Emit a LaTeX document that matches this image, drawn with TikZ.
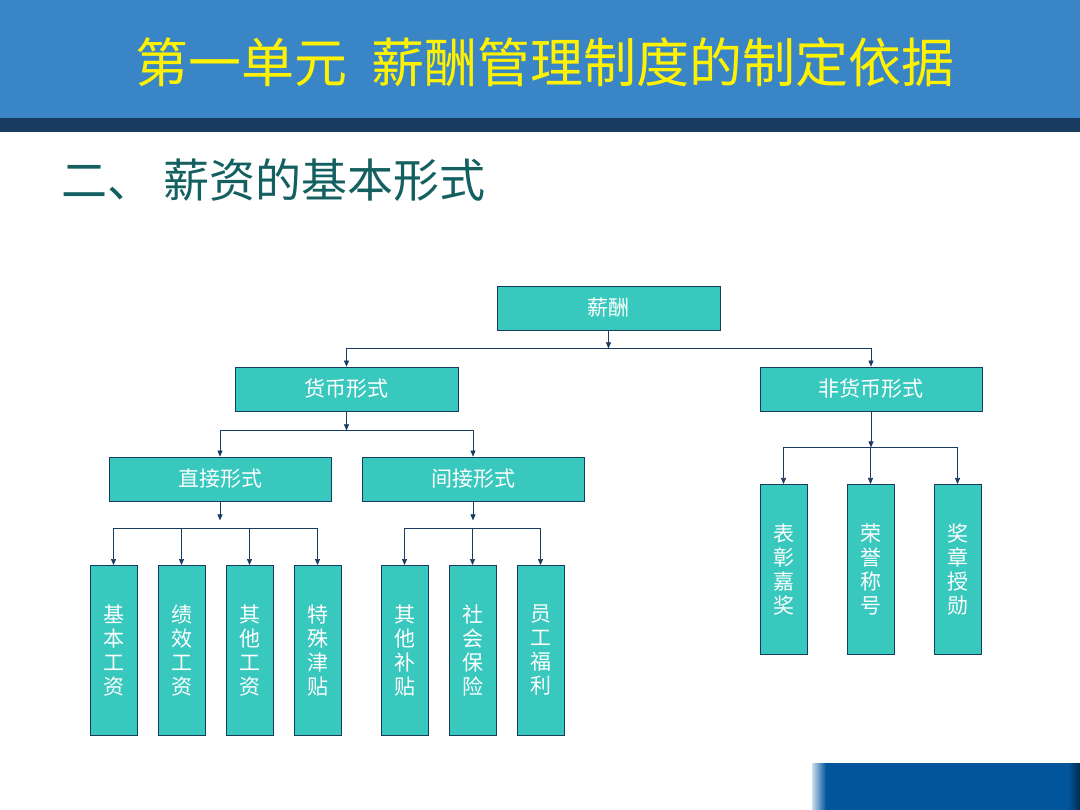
\documentclass[tikz,border=0pt]{standalone}
\usepackage{fontspec}
\newfontfamily\cjk{Noto Sans CJK SC}
\usetikzlibrary{arrows.meta}
\definecolor{banner}{RGB}{58,133,198}
\definecolor{navy}{RGB}{24,60,96}
\definecolor{boxfill}{RGB}{56,200,190}
\definecolor{subtitle}{RGB}{20,95,95}
\definecolor{tab}{RGB}{0,85,155}
\tikzset{
  box/.style={draw=navy, fill=boxfill, thick, minimum height=44pt, font=\cjk\fontsize{21}{24}\selectfont, text=white},
  vbox/.style={draw=navy, fill=boxfill, thick, minimum width=47pt, align=center, font=\cjk\fontsize{21}{24}\selectfont, text=white, anchor=north},
  link/.style={draw=navy, semithick},
  arr/.style={link, -{Triangle[length=6pt,width=5pt]}}
}
\begin{document}
\begin{tikzpicture}[x=1pt,y=-1pt]
  \useasboundingbox (0,0) rectangle (1080,810);
  \fill[white] (0,0) rectangle (1080,810);
  \fill[banner] (0,0) rectangle (1080,118);
  \fill[navy] (0,118) rectangle (1080,132);
  \fill[tab] (812,763) rectangle (1080,810);
  \shade[left color=tab!20, right color=tab] (812,763) rectangle (826,810);
  \shade[left color=tab, right color=tab!50!black] (1068,763) rectangle (1080,810);
  \node (title) at (545,62) [text=yellow, font=\cjk\fontsize{53}{58}\selectfont] {第一单元\ \ 薪酬管理制度的制定依据};
  \node (sub) at (58,180) [anchor=west, text=subtitle, font=\cjk\fontsize{46}{50}\selectfont] {二、\ 薪资的基本形式};

  \node (pay)    at (608.5,308) [box, minimum width=223pt] {薪酬};
  \node (money)  at (346.5,389) [box, minimum width=223pt] {货币形式};
  \node (nonmon) at (871,389)   [box, minimum width=222pt] {非货币形式};
  \node (direct) at (220,479)   [box, minimum width=222pt] {直接形式};
  \node (indir)  at (473,479)   [box, minimum width=222pt] {间接形式};

  \node (basic)  at (113.5,565) [vbox, minimum height=170pt] {基\\本\\工\\资};
  \node (perf)   at (181.5,565) [vbox, minimum height=170pt] {绩\\效\\工\\资};
  \node (other)  at (249.5,565) [vbox, minimum height=170pt] {其\\他\\工\\资};
  \node (spec)   at (317.5,565) [vbox, minimum height=170pt] {特\\殊\\津\\贴};
  \node (subsid) at (404.5,565) [vbox, minimum height=170pt] {其\\他\\补\\贴};
  \node (social) at (472.5,565) [vbox, minimum height=170pt] {社\\会\\保\\险};
  \node (welf)   at (540.5,565) [vbox, minimum height=170pt] {员\\工\\福\\利};
  \node (praise) at (783.5,484) [vbox, minimum height=170pt] {表\\彰\\嘉\\奖};
  \node (honor)  at (870.5,484) [vbox, minimum height=170pt] {荣\\誉\\称\\号};
  \node (medal)  at (957.5,484) [vbox, minimum height=170pt] {奖\\章\\授\\勋};

  % tier 1
  \draw[arr] (pay.south) -- ++(0,18) coordinate (j1);
  \draw[link] (j1 -| money.south) -- (j1 -| nonmon.south);
  \draw[arr] (j1 -| money.south) -- (money.north);
  \draw[arr] (j1 -| nonmon.south) -- (nonmon.north);
  % tier 2
  \draw[arr] (money.south) -- ++(0,19) coordinate (j2);
  \draw[link] (j2 -| direct.south) -- (j2 -| indir.south);
  \draw[arr] (j2 -| direct.south) -- (direct.north);
  \draw[arr] (j2 -| indir.south) -- (indir.north);
  \draw[arr] (nonmon.south) -- ++(0,36) coordinate (j3);
  \draw[link] (j3 -| praise.north) -- (j3 -| medal.north);
  \foreach \n in {praise,honor,medal}
    \draw[arr] (j3 -| \n.north) -- (\n.north);
  % tier 3
  \draw[arr] (direct.south) -- ++(0,19) coordinate (j4);
  \draw[link] (j4 |- 0,528) coordinate (j5) (j5 -| basic.north) -- (j5 -| spec.north);
  \foreach \n in {basic,perf,other,spec}
    \draw[arr] (j5 -| \n.north) -- (\n.north);
  \draw[arr] (indir.south) -- ++(0,19);
  \draw[link] (j5 -| subsid.north) -- (j5 -| welf.north);
  \foreach \n in {subsid,social,welf}
    \draw[arr] (j5 -| \n.north) -- (\n.north);
\end{tikzpicture}
\end{document}
